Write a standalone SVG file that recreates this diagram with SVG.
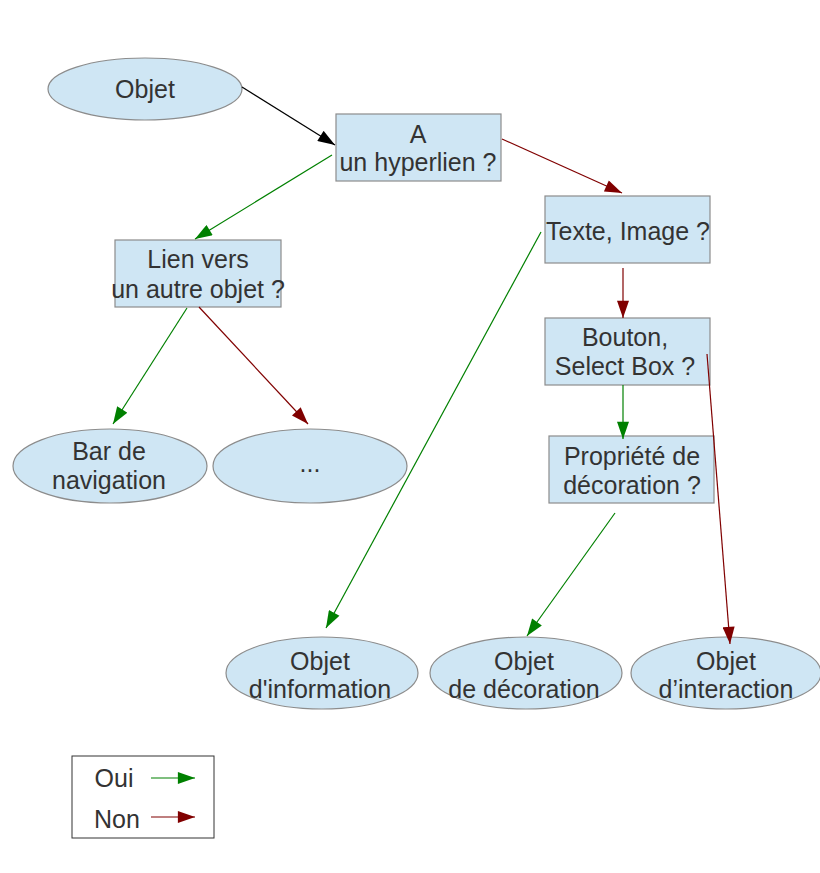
<svg xmlns="http://www.w3.org/2000/svg" width="820" height="873" viewBox="0 0 820 873">
<style>
.n{fill:#cfe6f4;stroke:#8c8c8c;stroke-width:1.2}
text{font-family:"Liberation Sans",Arial,sans-serif;font-size:25px;fill:#333;text-anchor:middle}
.g{stroke:#008000;stroke-width:1.2;fill:none}
.r{stroke:#800000;stroke-width:1.2;fill:none}
.k{stroke:#000;stroke-width:1.2;fill:none}
</style>
<defs>
<marker id="ag" viewBox="0 0 20 14" refX="20" refY="7" markerWidth="18" markerHeight="12" markerUnits="userSpaceOnUse" orient="auto"><path d="M0,0L20,7L0,14z" fill="#008000"/></marker>
<marker id="ar" viewBox="0 0 20 14" refX="20" refY="7" markerWidth="18" markerHeight="12" markerUnits="userSpaceOnUse" orient="auto"><path d="M0,0L20,7L0,14z" fill="#800000"/></marker>
<marker id="ak" viewBox="0 0 20 14" refX="20" refY="7" markerWidth="18" markerHeight="12" markerUnits="userSpaceOnUse" orient="auto"><path d="M0,0L20,7L0,14z" fill="#000"/></marker>
</defs>
<rect width="820" height="873" fill="#fff"/>
<g id="objet"><ellipse class="n" cx="145" cy="89" rx="97" ry="31"/><text x="145" y="98">Objet</text></g>
<g id="hyperlien"><rect class="n" x="336" y="114" width="165" height="67"/><text x="418" y="143">A</text><text x="418" y="171">un hyperlien ?</text></g>
<g id="texte"><rect class="n" x="545" y="196" width="165" height="67"/><text x="628" y="240">Texte, Image ?</text></g>
<g id="lien"><rect class="n" x="115" y="240" width="166" height="67"/><text x="198" y="268">Lien vers</text><text x="198" y="298">un autre objet ?</text></g>
<g id="bouton"><rect class="n" x="545" y="318" width="165" height="67"/><text x="625" y="346">Bouton,</text><text x="625" y="375">Select Box ?</text></g>
<g id="propriete"><rect class="n" x="549" y="436" width="165" height="67"/><text x="632" y="465">Propriété de</text><text x="632" y="494">décoration ?</text></g>
<g id="bar"><ellipse class="n" cx="110" cy="466" rx="97" ry="37"/><text x="109" y="460">Bar de</text><text x="109" y="489">navigation</text></g>
<g id="etc"><ellipse class="n" cx="310" cy="466" rx="97" ry="37"/><text x="310" y="472">...</text></g>
<g id="information"><ellipse class="n" cx="322" cy="673" rx="96" ry="36"/><text x="320" y="670">Objet</text><text x="320" y="698">d'information</text></g>
<g id="decoration"><ellipse class="n" cx="526" cy="673" rx="96" ry="36"/><text x="524" y="670">Objet</text><text x="524" y="698">de décoration</text></g>
<g id="interaction"><ellipse class="n" cx="726" cy="673" rx="95" ry="36"/><text x="726" y="670">Objet</text><text x="726" y="698">d’interaction</text></g>
<g id="connectors">
<line class="k" x1="242" y1="87" x2="335" y2="145" marker-end="url(#ak)"/>
<line class="r" x1="502" y1="139" x2="622" y2="193" marker-end="url(#ar)"/>
<line class="g" x1="332" y1="155" x2="195" y2="239" marker-end="url(#ag)"/>
<line class="g" x1="187" y1="308" x2="113" y2="424" marker-end="url(#ag)"/>
<line class="r" x1="199" y1="307" x2="308" y2="424" marker-end="url(#ar)"/>
<line class="g" x1="541" y1="232" x2="326" y2="628" marker-end="url(#ag)"/>
<line class="r" x1="623" y1="268" x2="623" y2="318" marker-end="url(#ar)"/>
<line class="g" x1="623" y1="385" x2="623" y2="439" marker-end="url(#ag)"/>
<line class="g" x1="615" y1="513" x2="527" y2="636" marker-end="url(#ag)"/>
<line class="r" x1="707" y1="354" x2="730" y2="644" marker-end="url(#ar)"/>
</g>
<g id="legend">
<rect x="72" y="756" width="142" height="82" fill="#fff" stroke="#333" stroke-width="1"/>
<text x="114" y="787">Oui</text>
<text x="117" y="828">Non</text>
<line class="g" x1="151" y1="778" x2="195" y2="778" marker-end="url(#ag)"/>
<line class="r" x1="151" y1="817" x2="195" y2="817" marker-end="url(#ar)"/>
</g>
</svg>
